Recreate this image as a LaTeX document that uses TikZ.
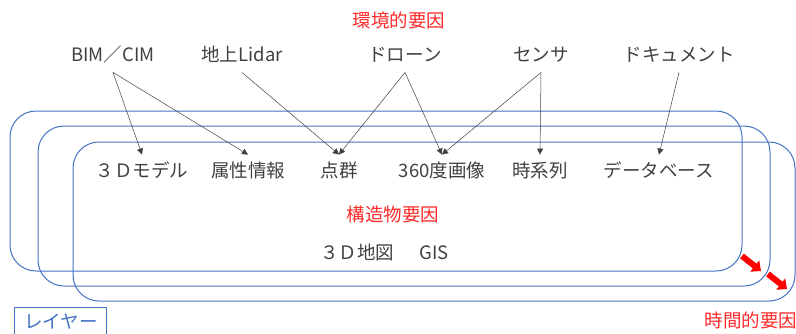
\documentclass[tikz,border=0pt]{standalone}
\usepackage{fontspec}
\setmainfont{Noto Sans CJK JP}
\usetikzlibrary{arrows.meta}
\definecolor{txt}{HTML}{404040}
\definecolor{frame}{HTML}{4472C4}
\definecolor{redtxt}{HTML}{FF2A2A}
\begin{document}
\begin{tikzpicture}[x=1pt,y=-1pt,
  lbl/.style={text=txt,font=\fontsize{18.5}{22}\selectfont,inner xsep=0pt,text height=15pt,text depth=2.5pt},
  srclbl/.style={lbl,inner ysep=8.5pt},
  dstlbl/.style={lbl,inner ysep=7.5pt},
  redlbl/.style={lbl,text=redtxt},
  layerbox/.style={draw=frame,line width=1pt,rounded corners=26pt},
  conn/.style={draw=txt,line width=0.5pt,-{Triangle[width=6pt,length=6pt]}},
  timearrow/.style={draw=red,line width=6pt,-{Triangle[width=14pt,length=8pt]}}
]
\useasboundingbox (0,0) rectangle (796,333);
% layer frames
\draw[layerbox] (10,111) rectangle (742,271);
\draw[layerbox] (38,126) rectangle (770,286);
\draw[layerbox] (73,142) rectangle (795,301);
% titles
\node[redlbl] (env) at (399,21) {環境的要因};
\node[redlbl] (str) at (393,215) {構造物要因};
\node[redlbl] (tim) at (751,321) {時間的要因};
% sources
\node[srclbl] (bim) at (113,55) {BIM／CIM};
\node[srclbl] (lidar) at (242,55) {地上Lidar};
\node[srclbl] (drone) at (405,55) {ドローン};
\node[srclbl] (sensor) at (541,55) {センサ};
\node[srclbl] (doc) at (679,55) {ドキュメント};
% data
\node[dstlbl] (model) at (142,171) {３Ｄモデル};
\node[dstlbl] (attr) at (248,171) {属性情報};
\node[dstlbl] (pc) at (339,171) {点群};
\node[dstlbl] (img) at (442,171) {360度画像};
\node[dstlbl] (ts) at (540,171) {時系列};
\node[dstlbl] (db) at (659,171) {データベース};
\node[lbl] (map) at (357,253) {３Ｄ地図};
\node[lbl] (gis) at (434,253) {GIS};
% connectors
\draw[conn] (bim.south) -- (model.north);
\draw[conn] (bim.south) -- (attr.north);
\draw[conn] (lidar.south) -- (pc.north);
\draw[conn] (drone.south) -- (pc.north);
\draw[conn] (drone.south) -- (img.north);
\draw[conn] (sensor.south) -- (img.north);
\draw[conn] (sensor.south) -- (ts.north);
\draw[conn] (doc.south) -- (db.north);
% time arrows
\coordinate (t1a) at (742,256);
\coordinate (t1b) at (761,271);
\coordinate (t2a) at (768,274);
\coordinate (t2b) at (787,289);
\draw[timearrow] (t1a) -- (t1b);
\draw[timearrow] (t2a) -- (t2b);
% layer label
\draw[draw=frame,line width=1pt] (14,340) -- (14,307) -- (106,307) -- (106,340);
\node[lbl,text=frame] (layer) at (61,322) {レイヤー};
\end{tikzpicture}
\end{document}
